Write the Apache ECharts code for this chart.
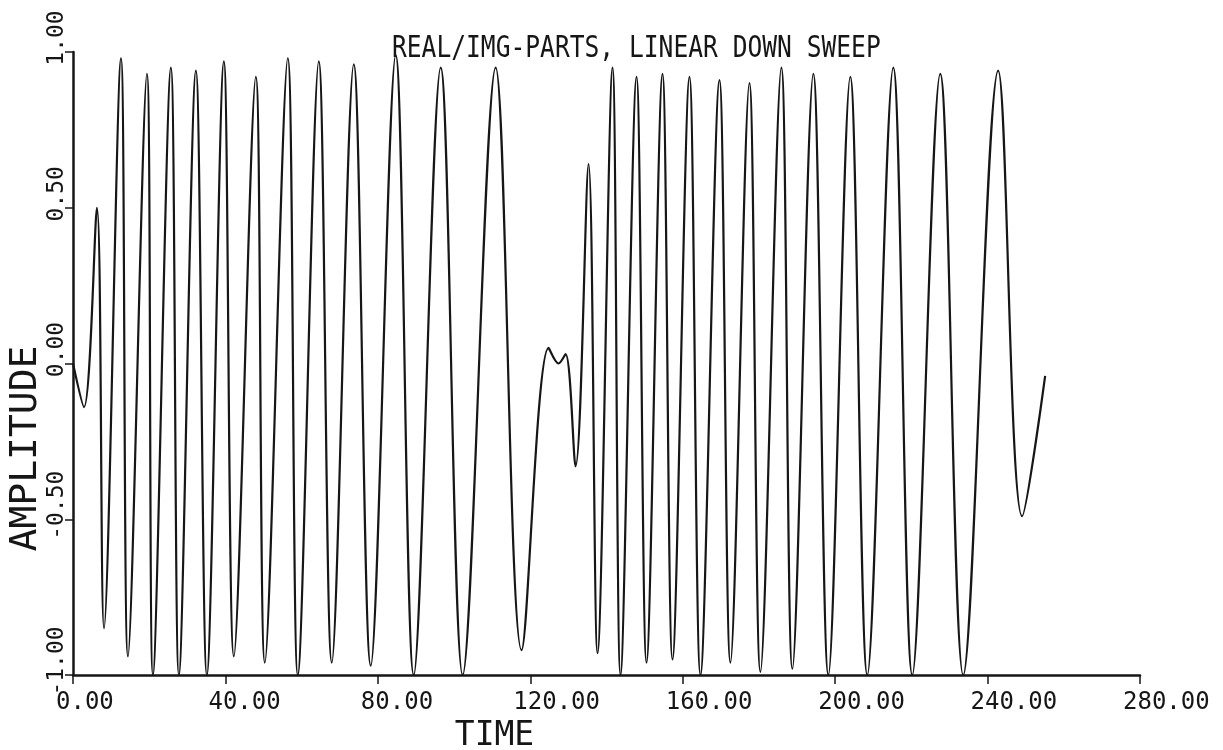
<!DOCTYPE html>
<html>
<head>
<meta charset="utf-8">
<script src="https://cdn.jsdelivr.net/npm/echarts@6/dist/echarts.min.js"></script>
<style>
html,body{margin:0;padding:0;background:#fff;}
#chart{width:1223px;height:750px;}
</style>
</head>
<body>
<div id="chart"></div>
<script>
const titleText = "REAL/IMG-PARTS, LINEAR DOWN SWEEP";
const xAxisName = "TIME";
const yAxisName = "AMPLITUDE";
const xTicks = [0, 40, 80, 120, 160, 200, 240, 280];
const yTicks = [-1, -0.5, 0, 0.5, 1];

const timeValues = [
  0.00, 2.88, 6.29, 8.13, 12.59, 14.42, 19.40, 20.98, 25.69, 27.79,
  32.25, 35.13, 39.59, 42.21, 47.98, 50.34, 56.37, 58.99, 64.50, 67.91,
  73.68, 78.13, 84.69, 89.41, 96.49, 102.25, 110.91, 117.72, 124.80, 127.42,
  129.26, 131.88, 135.29, 137.65, 141.58, 143.68, 147.88, 150.50, 154.69, 157.32,
  161.77, 164.66, 169.64, 172.52, 177.50, 180.39, 185.89, 188.78, 194.28, 198.22,
  203.98, 208.44, 215.26, 220.24, 227.58, 233.61, 242.79, 249.08, 255.11
];
const amplitudeValues = [
  0.00, -0.14, 0.50, -0.85, 0.98, -0.94, 0.93, -1.00, 0.95, -1.00,
  0.94, -1.00, 0.97, -0.94, 0.92, -0.96, 0.98, -1.00, 0.97, -0.96,
  0.96, -0.97, 0.99, -1.00, 0.95, -1.00, 0.95, -0.92, 0.05, 0.00,
  0.03, -0.33, 0.64, -0.93, 0.95, -1.00, 0.92, -0.96, 0.93, -0.95,
  0.92, -1.00, 0.91, -0.96, 0.90, -0.99, 0.95, -0.98, 0.93, -1.00,
  0.92, -1.00, 0.95, -1.00, 0.93, -1.00, 0.94, -0.49, -0.04
];

const chart = echarts.init(document.getElementById('chart'), null, {renderer: 'canvas'});
const mono = "DejaVu Sans Mono";
const ink = "#161616";

chart.setOption({
  backgroundColor: '#ffffff',
  animation: false,
  grid: {left: 73, right: 83, top: 52, bottom: 75, containLabel: false, outerBoundsMode: 'none'},
  graphic: [{
    type: 'text',
    left: 392,
    top: 34,
    scaleX: 0.82,
    style: {text: titleText, fontFamily: mono, fontSize: 30, fill: ink}
  }],
  xAxis: {
    type: 'value',
    min: xTicks[0],
    max: xTicks[xTicks.length - 1],
    interval: xTicks[1] - xTicks[0],
    name: xAxisName,
    nameLocation: 'middle',
    nameGap: 41,
    nameTextStyle: {fontFamily: mono, fontSize: 33, color: ink, padding: [0, 224, 0, 0]},
    axisLine: {show: true, onZero: false, lineStyle: {color: ink, width: 2.5}},
    axisTick: {show: true, length: 9, lineStyle: {color: ink, width: 1.5}},
    splitLine: {show: false},
    axisLabel: {
      fontFamily: mono, fontSize: 24, color: ink,
      align: 'left', verticalAlign: 'top', margin: 16,
      padding: [0, 0, 0, -17],
      formatter: v => v.toFixed(2)
    }
  },
  yAxis: {
    type: 'value',
    min: yTicks[0],
    max: yTicks[yTicks.length - 1],
    interval: yTicks[1] - yTicks[0],
    name: yAxisName,
    nameLocation: 'middle',
    nameGap: 47,
    nameMoveOverlap: false,
    nameRotate: 90,
    nameTextStyle: {fontFamily: mono, fontSize: 38, color: ink, align: 'center', verticalAlign: 'middle', padding: [0, 170, 0, 0]},
    axisLine: {show: true, onZero: false, lineStyle: {color: ink, width: 2.5}},
    axisTick: {show: true, length: 8, lineStyle: {color: ink, width: 1.5}},
    splitLine: {show: false},
    axisLabel: {
      fontFamily: mono, fontSize: 23, color: ink,
      rotate: 90, align: 'center', verticalAlign: 'middle', margin: 16,
      padding: [0, 0, 0, 28],
      formatter: v => v.toFixed(2)
    }
  },
  series: [{
    type: 'line',
    data: timeValues.map((t, i) => [t, amplitudeValues[i]]),
    showSymbol: false,
    smooth: 0.35,
    lineStyle: {color: ink, width: 2.2}
  }]
});
</script>
</body>
</html>
